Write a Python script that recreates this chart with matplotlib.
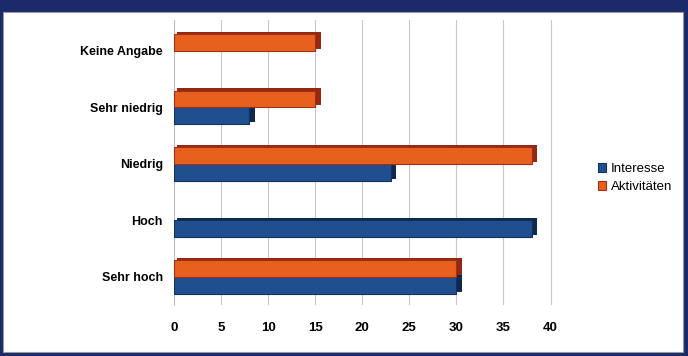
import matplotlib.pyplot as plt
from matplotlib.patches import Rectangle

categories = ['Sehr hoch', 'Hoch', 'Niedrig', 'Sehr niedrig', 'Keine Angabe']
interesse = [30, 38, 23, 8, 0]
aktivitaeten = [30, 0, 38, 15, 15]
xticks = [0, 5, 10, 15, 20, 25, 30, 35, 40]

plt.rcParams['font.family'] = ['Liberation Sans', 'DejaVu Sans']

fig = plt.figure(figsize=(6.88, 3.56), dpi=100)
fig.patch.set_facecolor('#1b2a6b')
# white inner panel
fig.patches.append(Rectangle((3/688, 0.011), 680/688, 0.955, transform=fig.transFigure,
                             facecolor='white', edgecolor='#9a9a9a', lw=0.8, zorder=-10))

ax = fig.add_axes([0.253, 0.143, 0.554, 0.801])
ax.set_facecolor('none')

y = list(range(len(categories)))
h = 0.3
y_blue = [v - h/2 for v in y]
y_orange = [v + h/2 for v in y]

# fake 3d depth: darker copy shifted up/right
ax.barh([v + 0.04 for v in y_blue], [w + 0.3 if w else 0 for w in interesse], height=h,
        left=0.3, color='#0f2850', lw=0, zorder=2)
ax.barh([v + 0.04 for v in y_orange], [w + 0.3 if w else 0 for w in aktivitaeten], height=h,
        left=0.3, color='#962812', lw=0, zorder=2)
ax.barh(y_blue, interesse, height=h, color='#1f4f8f', edgecolor='#15305e',
        linewidth=[0.8 if w else 0 for w in interesse], label='Interesse', zorder=3)
ax.barh(y_orange, aktivitaeten, height=h, color='#e8601e', edgecolor='#a0301a',
        linewidth=[0.8 if w else 0 for w in aktivitaeten], label='Aktivitäten', zorder=3)

ax.set_xlim(0, 40.5)
ax.set_ylim(-0.5, 4.55)
ax.set_xticks(xticks)
ax.set_xticklabels([str(t) for t in xticks], fontsize=9.5, fontweight='bold')
ax.set_yticks(y)
ax.set_yticklabels(categories, fontsize=9, fontweight='bold')
ax.tick_params(length=0, pad=8)
ax.tick_params(axis='x', pad=12)
ax.grid(axis='x', color='#c8c8c8', lw=0.8, zorder=0)
for s in ['top', 'right', 'bottom']:
    ax.spines[s].set_visible(False)
ax.spines['left'].set_color('#c0c0c0')

fig.legend(loc='center left', bbox_to_anchor=(0.852, 0.5), frameon=False, fontsize=9.5,
           handlelength=0.6, handleheight=0.6, handletextpad=0.4, labelspacing=0.45)

fig.savefig('out.png', dpi=100, facecolor=fig.get_facecolor())
